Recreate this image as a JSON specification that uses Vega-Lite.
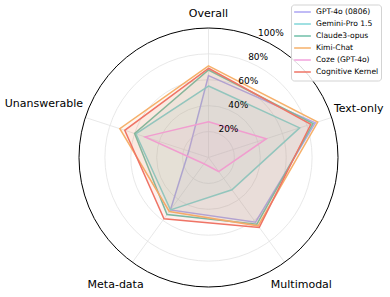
{
  "$schema": "https://vega.github.io/schema/vega-lite/v6.json",
  "width": 390,
  "height": 297,
  "autosize": "none",
  "padding": 0,
  "config": {"view": {"stroke": null}, "font": "DejaVu Sans"},
  "datasets": {
    "scores": [
      {"model": "GPT-4o (0806)", "axis": "Overall", "value": 63.2},
      {"model": "GPT-4o (0806)", "axis": "Text-only", "value": 86.7},
      {"model": "GPT-4o (0806)", "axis": "Multimodal", "value": 61.8},
      {"model": "GPT-4o (0806)", "axis": "Meta-data", "value": 50},
      {"model": "GPT-4o (0806)", "axis": "Unanswerable", "value": 16},
      {"model": "Gemini-Pro 1.5", "axis": "Overall", "value": 55.2},
      {"model": "Gemini-Pro 1.5", "axis": "Text-only", "value": 74},
      {"model": "Gemini-Pro 1.5", "axis": "Multimodal", "value": 30.8},
      {"model": "Gemini-Pro 1.5", "axis": "Meta-data", "value": 50},
      {"model": "Gemini-Pro 1.5", "axis": "Unanswerable", "value": 59},
      {"model": "Claude3-opus", "axis": "Overall", "value": 67.6},
      {"model": "Claude3-opus", "axis": "Text-only", "value": 84.9},
      {"model": "Claude3-opus", "axis": "Multimodal", "value": 63.6},
      {"model": "Claude3-opus", "axis": "Meta-data", "value": 54.5},
      {"model": "Claude3-opus", "axis": "Unanswerable", "value": 60},
      {"model": "Kimi-Chat", "axis": "Overall", "value": 70.7},
      {"model": "Kimi-Chat", "axis": "Text-only", "value": 88.7},
      {"model": "Kimi-Chat", "axis": "Multimodal", "value": 65.2},
      {"model": "Kimi-Chat", "axis": "Meta-data", "value": 51.5},
      {"model": "Kimi-Chat", "axis": "Unanswerable", "value": 72},
      {"model": "Coze (GPT-4o)", "axis": "Overall", "value": 27.6},
      {"model": "Coze (GPT-4o)", "axis": "Text-only", "value": 47},
      {"model": "Coze (GPT-4o)", "axis": "Multimodal", "value": 13.4},
      {"model": "Coze (GPT-4o)", "axis": "Meta-data", "value": 6},
      {"model": "Coze (GPT-4o)", "axis": "Unanswerable", "value": 51.6},
      {"model": "Cognitive Kernel", "axis": "Overall", "value": 68.9},
      {"model": "Cognitive Kernel", "axis": "Text-only", "value": 83.1},
      {"model": "Cognitive Kernel", "axis": "Multimodal", "value": 66.7},
      {"model": "Cognitive Kernel", "axis": "Meta-data", "value": 58.5},
      {"model": "Cognitive Kernel", "axis": "Unanswerable", "value": 68}
    ],
    "axes": [
      {"axis": "Overall"},
      {"axis": "Text-only"},
      {"axis": "Multimodal"},
      {"axis": "Meta-data"},
      {"axis": "Unanswerable"}
    ],
    "rings": [
      {"r": 20, "label": "20%"},
      {"r": 40, "label": "40%"},
      {"r": 60, "label": "60%"},
      {"r": 80, "label": "80%"},
      {"r": 100, "label": "100%"}
    ]
  },
  "layer": [
    {
      "data": {"name": "rings"},
      "transform": [{"filter": "datum.r < 100"}, {"calculate": "0", "as": "c"}],
      "mark": {"type": "point", "shape": "circle", "filled": false, "stroke": "#e2e2e2", "strokeWidth": 0.8, "opacity": 1},
      "encoding": {
        "x": {"field": "c", "type": "quantitative", "scale": {"domain": [-161.004, 140.154], "nice": false, "zero": false}, "axis": null},
        "y": {"field": "c", "type": "quantitative", "scale": {"domain": [-107.722, 121.622], "nice": false, "zero": false}, "axis": null},
        "size": {"field": "r", "type": "quantitative", "scale": {"type": "pow", "exponent": 2, "domain": [0, 100], "range": [0, 67081]}, "legend": null}
      }
    },
    {
      "data": {"name": "axes"},
      "transform": [
        {"calculate": "indexof(['Overall','Text-only','Multimodal','Meta-data','Unanswerable'], datum.axis) * 2 * PI / 5", "as": "ang"},
        {"calculate": "0", "as": "c"},
        {"calculate": "100 * sin(datum.ang)", "as": "sx"},
        {"calculate": "100 * cos(datum.ang)", "as": "sy"}
      ],
      "mark": {"type": "rule", "stroke": "#e2e2e2", "strokeWidth": 0.8},
      "encoding": {
        "x": {"field": "c", "type": "quantitative", "scale": {"domain": [-161.004, 140.154], "nice": false, "zero": false}, "axis": null},
        "y": {"field": "c", "type": "quantitative", "scale": {"domain": [-107.722, 121.622], "nice": false, "zero": false}, "axis": null},
        "x2": {"field": "sx"},
        "y2": {"field": "sy"}
      }
    },
    {
      "data": {"name": "scores"},
      "transform": [
        {"calculate": "indexof(['Overall','Text-only','Multimodal','Meta-data','Unanswerable'], datum.axis) * 2 * PI / 5", "as": "ang"},
        {"calculate": "datum.value * sin(datum.ang)", "as": "px"},
        {"calculate": "datum.value * cos(datum.ang)", "as": "py"}
      ],
      "mark": {"type": "line", "interpolate": "linear-closed", "strokeWidth": 1.5, "fillOpacity": 0.1},
      "encoding": {
        "x": {"field": "px", "type": "quantitative", "scale": {"domain": [-161.004, 140.154], "nice": false, "zero": false}, "axis": null},
        "y": {"field": "py", "type": "quantitative", "scale": {"domain": [-107.722, 121.622], "nice": false, "zero": false}, "axis": null},
        "order": {"field": "ang", "type": "quantitative"},
        "color": {
          "field": "model",
          "type": "nominal",
          "scale": {
            "domain": ["GPT-4o (0806)", "Gemini-Pro 1.5", "Claude3-opus", "Kimi-Chat", "Coze (GPT-4o)", "Cognitive Kernel"],
            "range": ["#aba4f3", "#80d6d8", "#6fbfa8", "#f6b06a", "#f2a2dc", "#ef7466"]
          },
          "legend": {
            "title": null,
            "orient": "none",
            "legendX": 291,
            "legendY": 4.5,
            "symbolType": "stroke",
            "symbolStrokeWidth": 1.5,
            "symbolSize": 279,
            "labelFontSize": 7.6,
            "labelFont": "DejaVu Sans",
            "labelColor": "#000000",
            "fillColor": "rgba(255,255,255,0.85)",
            "strokeColor": "#d3d3d3",
            "cornerRadius": 3,
            "padding": 2,
            "rowPadding": 0,
            "clipHeight": 11.2,
            "labelOffset": 4
          }
        },
        "fill": {
          "field": "model",
          "type": "nominal",
          "scale": {
            "domain": ["GPT-4o (0806)", "Gemini-Pro 1.5", "Claude3-opus", "Kimi-Chat", "Coze (GPT-4o)", "Cognitive Kernel"],
            "range": ["#aba4f3", "#80d6d8", "#6fbfa8", "#f6b06a", "#f2a2dc", "#ef7466"]
          },
          "legend": null
        }
      }
    },
    {
      "data": {"name": "rings"},
      "transform": [{"filter": "datum.r == 100"}, {"calculate": "0", "as": "c"}],
      "mark": {"type": "point", "shape": "circle", "filled": false, "stroke": "#000000", "strokeWidth": 1, "opacity": 1},
      "encoding": {
        "x": {"field": "c", "type": "quantitative", "scale": {"domain": [-161.004, 140.154], "nice": false, "zero": false}, "axis": null},
        "y": {"field": "c", "type": "quantitative", "scale": {"domain": [-107.722, 121.622], "nice": false, "zero": false}, "axis": null},
        "size": {"field": "r", "type": "quantitative", "scale": {"type": "pow", "exponent": 2, "domain": [0, 100], "range": [0, 67081]}, "legend": null}
      }
    },
    {
      "data": {"name": "rings"},
      "transform": [
        {"calculate": "datum.r * sin(PI / 8)", "as": "lx"},
        {"calculate": "datum.r * cos(PI / 8)", "as": "ly"}
      ],
      "mark": {"type": "text", "align": "left", "baseline": "bottom", "fontSize": 9, "font": "DejaVu Sans", "color": "#000000"},
      "encoding": {
        "x": {"field": "lx", "type": "quantitative", "scale": {"domain": [-161.004, 140.154], "nice": false, "zero": false}, "axis": null},
        "y": {"field": "ly", "type": "quantitative", "scale": {"domain": [-107.722, 121.622], "nice": false, "zero": false}, "axis": null},
        "text": {"field": "label", "type": "nominal"}
      }
    },
    {
      "data": {"name": "axes"},
      "transform": [
        {"calculate": "indexof(['Overall','Text-only','Multimodal','Meta-data','Unanswerable'], datum.axis)", "as": "i"},
        {"calculate": "datum.i * 2 * PI / 5", "as": "ang"},
        {"calculate": "[110.8, 122, 122, 122, 133.6][datum.i]", "as": "lr"},
        {"calculate": "datum.lr * sin(datum.ang)", "as": "lx"},
        {"calculate": "datum.lr * cos(datum.ang)", "as": "ly"}
      ],
      "mark": {"type": "text", "align": "center", "baseline": "middle", "fontSize": 11, "font": "DejaVu Sans", "color": "#000000"},
      "encoding": {
        "x": {"field": "lx", "type": "quantitative", "scale": {"domain": [-161.004, 140.154], "nice": false, "zero": false}, "axis": null},
        "y": {"field": "ly", "type": "quantitative", "scale": {"domain": [-107.722, 121.622], "nice": false, "zero": false}, "axis": null},
        "text": {"field": "axis", "type": "nominal"}
      }
    }
  ]
}
